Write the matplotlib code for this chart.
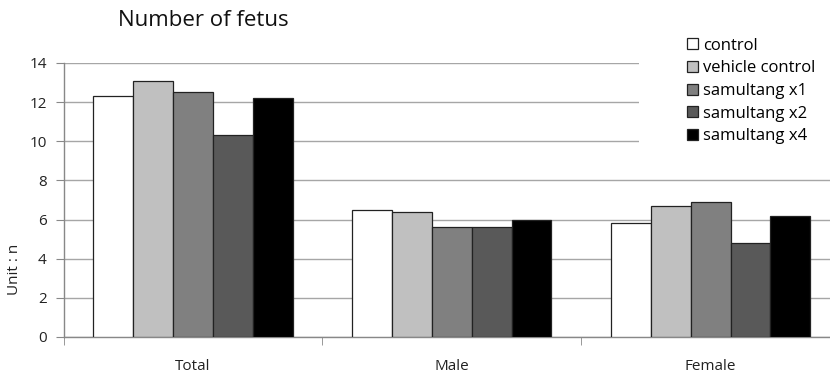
import numpy as np
import matplotlib.pyplot as plt
from matplotlib.patches import Rectangle

# ---------- Data ----------

categories = ["Total", "Male", "Female"]
series_names = ["control", "vehicle control", "samultang x1", "samultang x2", "samultang x4"]
control = [12.3, 6.5, 5.8]
vehicle_control = [13.1, 6.4, 6.7]
samultang_x1 = [12.5, 5.6, 6.9]
samultang_x2 = [10.3, 5.6, 4.8]
samultang_x4 = [12.2, 6.0, 6.2]

series_values = [control, vehicle_control, samultang_x1, samultang_x2, samultang_x4]
colors = ["#FFFFFF", "#C0C0C0", "#808080", "#595959", "#000000"]

FONT = ["Open Sans", "DejaVu Sans"]


def main():
    plt.rcParams["font.family"] = FONT

    fig = plt.figure(figsize=(8.3, 3.75), dpi=100)
    W, H = 830, 375
    left, right, bottom, top = 63.5, 840, 337, 63
    ax = fig.add_axes([left / W, 1 - bottom / H, (right - left) / W, (bottom - top) / H])

    x = np.arange(len(categories))
    width = 0.154
    n = len(series_values)
    for i, (name, vals, col) in enumerate(zip(series_names, series_values, colors)):
        offset = (i - (n - 1) / 2) * width
        ax.bar(x + offset, vals, width, color=col, edgecolor="#222222",
               linewidth=0.9, label=name, zorder=3)

    ax.set_xlim(-0.5, len(categories) - 0.5)
    ax.set_ylim(0, 14)
    ax.set_yticks(range(0, 15, 2))

    # gridlines
    ax.grid(axis="y", color="#A6A6A6", linewidth=1.0, zorder=0)
    ax.set_axisbelow(True)

    for s in ["top", "right"]:
        ax.spines[s].set_visible(False)
    for s in ["left", "bottom"]:
        ax.spines[s].set_color("#888888")
        ax.spines[s].set_linewidth(1.0)

    # ticks
    ax.tick_params(axis="y", direction="out", length=6, color="#888888",
                   labelsize=11, pad=6, labelcolor="#222222")
    ax.set_xticks(x)
    ax.set_xticklabels(categories)
    ax.tick_params(axis="x", which="major", length=0, pad=16,
                   labelsize=11, labelcolor="#222222")
    ax.set_xticks(np.arange(-0.5, len(categories), 1.0), minor=True)
    ax.tick_params(axis="x", which="minor", direction="out", length=6,
                   color="#888888")

    ax.set_ylabel("Unit : n", fontsize=11, color="#222222")
    ax.yaxis.set_label_coords(-0.054, 0.245)

    # white legend backing over the gridlines
    ax.add_patch(Rectangle((639 / W, 1 - 170 / H), 200 / W, 140 / H,
                           transform=fig.transFigure, facecolor="white",
                           edgecolor="none", zorder=1))

    fig.legend(loc="upper left", bbox_to_anchor=(675 / W, 1 - 26 / H),
               frameon=False, fontsize=12, handlelength=0.66, handleheight=0.66,
               handletextpad=0.3, labelspacing=0.4, borderpad=0.2)

    fig.text(118 / W, 1 - 20 / H, "Number of fetus", fontsize=16,
             ha="left", va="center", color="#111111")

    fig.savefig("out.png", dpi=100)
    plt.close(fig)


if __name__ == "__main__":
    main()
